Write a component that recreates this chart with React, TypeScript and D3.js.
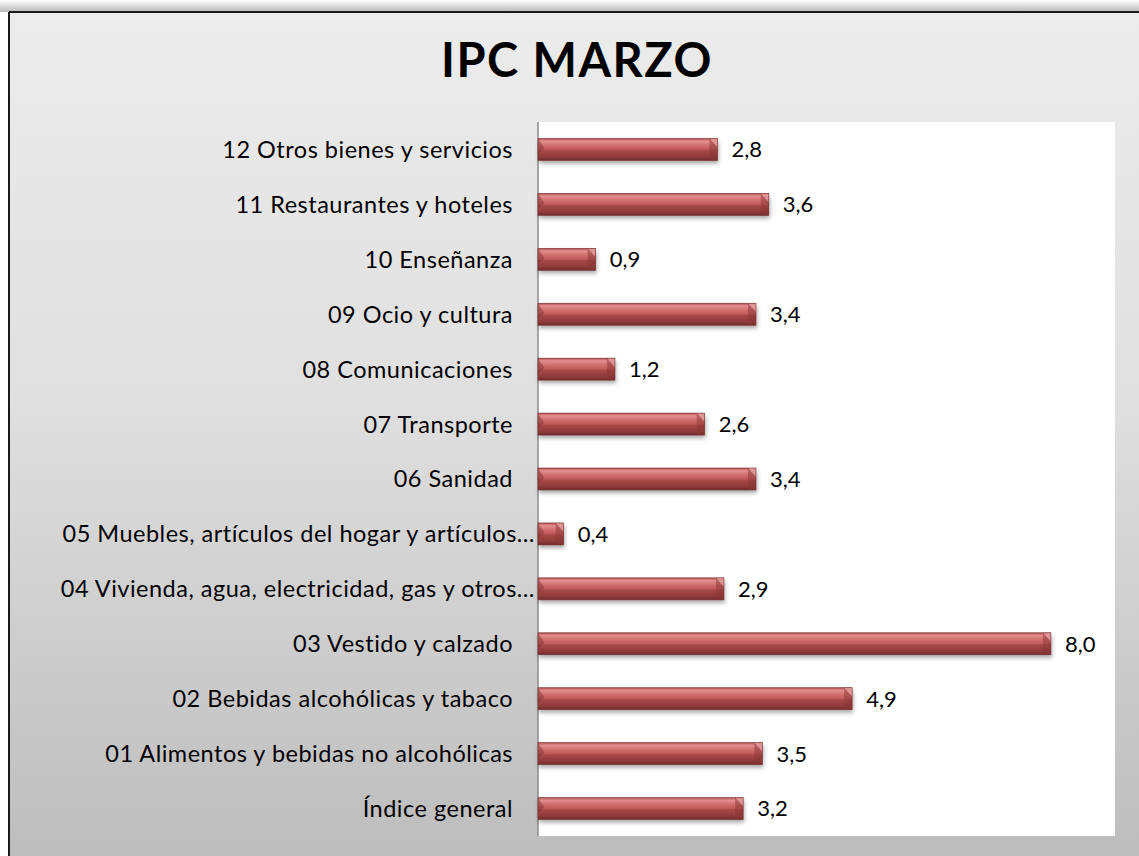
import React from "react";
import * as d3 from "d3";

const categories = [
  "12 Otros bienes y servicios ",
  "11 Restaurantes y hoteles",
  "10 Enseñanza",
  "09 Ocio y cultura",
  "08 Comunicaciones",
  "07 Transporte",
  "06 Sanidad",
  "05 Muebles, artículos del hogar y artículos…",
  "04 Vivienda, agua, electricidad, gas y otros…",
  "03 Vestido y calzado",
  "02 Bebidas alcohólicas y tabaco",
  "01 Alimentos y bebidas no alcohólicas",
  "Índice general",
];
const values = [2.8, 3.6, 0.9, 3.4, 1.2, 2.6, 3.4, 0.4, 2.9, 8.0, 4.9, 3.5, 3.2];
const title = "IPC MARZO";
const xDomain = [0, 9];

const W = 1139;
const H = 856;
const plot = { left: 538, right: 1115, top: 122, bottom: 836 };

export default function App() {
  const x = d3.scaleLinear().domain(xDomain).range([plot.left, plot.right]);
  const y = d3
    .scaleBand<string>()
    .domain(categories)
    .range([plot.top, plot.bottom])
    .paddingInner(0.6)
    .paddingOuter(0.3);
  const bh = y.bandwidth();
  const fmt = (v: number) => v.toFixed(1).replace(".", ",");
  const font = "Lato, 'Open Sans', sans-serif";

  return (
    <svg
      width={W}
      height={H}
      style={{ position: "absolute", left: 0, top: 0, display: "block" }}
    >
      <defs>
        <linearGradient id="bg" x1="0" y1="0" x2="0" y2="1">
          <stop offset="0" stopColor="#ececec" />
          <stop offset="0.45" stopColor="#e0e0e0" />
          <stop offset="1" stopColor="#bdbdbd" />
        </linearGradient>
        <linearGradient id="topShadow" x1="0" y1="0" x2="0" y2="1">
          <stop offset="0" stopColor="#ffffff" />
          <stop offset="1" stopColor="#b8b8b8" />
        </linearGradient>
        <linearGradient id="bar" x1="0" y1="0" x2="0" y2="1">
          <stop offset="0" stopColor="#b04a4a" />
          <stop offset="0.12" stopColor="#e39090" />
          <stop offset="0.3" stopColor="#d27070" />
          <stop offset="0.5" stopColor="#c05a5a" />
          <stop offset="0.55" stopColor="#a94848" />
          <stop offset="0.85" stopColor="#8e3a3a" />
          <stop offset="1" stopColor="#6e2b2b" />
        </linearGradient>
        <filter id="shadow" x="-10%" y="-30%" width="120%" height="180%">
          <feDropShadow dx="1" dy="3" stdDeviation="2" floodColor="#000" floodOpacity="0.35" />
        </filter>
      </defs>

      <rect x={0} y={0} width={W} height={H} fill="#ffffff" />
      <rect x={0} y={0} width={W} height={12} fill="url(#topShadow)" />
      <rect x={9} y={12} width={W - 9} height={H - 12} fill="url(#bg)" />
      <line x1={9} y1={12} x2={W} y2={12} stroke="#1a1a1a" strokeWidth={2} />
      <line x1={9} y1={12} x2={9} y2={H} stroke="#1a1a1a" strokeWidth={2} />

      <text
        x={577}
        y={77}
        textAnchor="middle"
        fontFamily={font}
        fontWeight={700}
        fontSize={47}
        letterSpacing={1.5}
        fill="#000"
      >
        {title}
      </text>

      <rect
        x={plot.left}
        y={plot.top}
        width={plot.right - plot.left}
        height={plot.bottom - plot.top}
        fill="#ffffff"
      />
      <line
        x1={plot.left}
        y1={plot.top}
        x2={plot.left}
        y2={plot.bottom}
        stroke="#8c8c8c"
        strokeWidth={1.5}
      />

      {categories.map((c, i) => {
        const v = values[i];
        const y0 = y(c)!;
        const x0 = x(0);
        const x1 = x(v);
        const w = x1 - x0;
        const bev = Math.min(8, w / 2);
        const cy = y0 + bh / 2;
        const truncated = c.endsWith("…");
        return (
          <g key={c}>
            <g filter="url(#shadow)">
              <rect x={x0} y={y0} width={w} height={bh} fill="url(#bar)" />
            </g>
            <rect x={x1 - bev} y={y0} width={bev} height={bh} fill="#8a3636" opacity={0.5} />
            <polygon
              points={`${x1 - bev},${y0} ${x1},${y0} ${x1},${y0 + bh * 0.4}`}
              fill="#e8a0a0"
              opacity={0.85}
            />
            <polygon
              points={`${x0},${y0} ${x0 + bev * 0.8},${y0 + bh * 0.45} ${x0},${y0 + bh * 0.7}`}
              fill="#7a2e2e"
              opacity={0.45}
            />
            <rect x={x0} y={y0} width={w} height={bh} fill="none" stroke="#7a3030" strokeWidth={0.6} />
            <text
              x={x1 + 14}
              y={cy}
              dy="0.36em"
              fontFamily={font}
              fontSize={22}
              fill="#000"
            >
              {fmt(v)}
            </text>
            <text
              x={truncated ? plot.left - 3 : plot.left - 25}
              y={cy}
              dy="0.36em"
              textAnchor="end"
              fontFamily={font}
              fontSize={23.5}
              letterSpacing={0.5}
              fill="#000"
            >
              {c.trimEnd()}
            </text>
          </g>
        );
      })}
    </svg>
  );
}
